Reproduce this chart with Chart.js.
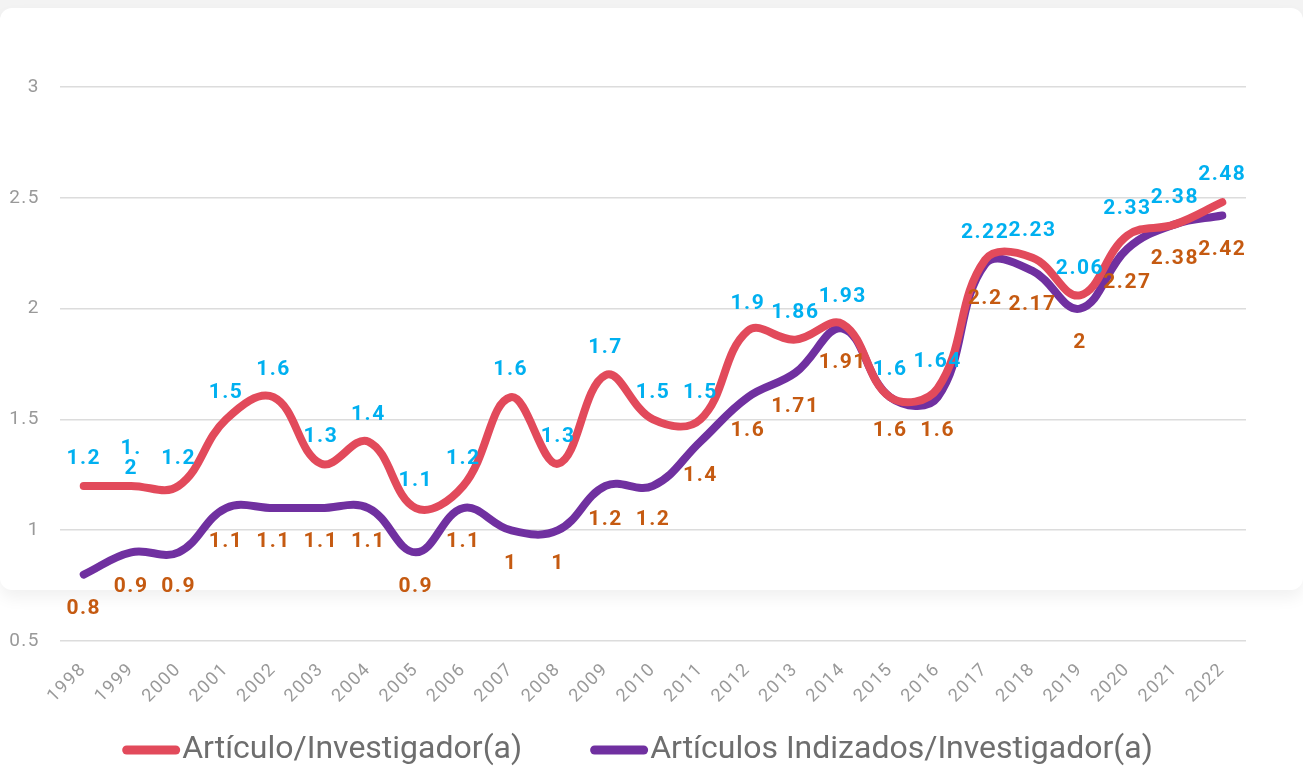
<!DOCTYPE html>
<html>
<head>
<meta charset="utf-8">
<script src="https://cdn.jsdelivr.net/npm/chart.js@4"></script>
<style>
    body { margin: 0; background: #fff; }
    .page { position: relative; width: 1303px; height: 766px; overflow: hidden; background: #fff; }
    .strip { position: absolute; left: 0; top: 0; width: 100%; height: 30px; background: #f3f3f3; }
    .card { position: absolute; left: 0; top: 8px; width: 1303px; height: 582px; background: #fff; border-radius: 12px; box-shadow: 0 8px 16px rgba(0, 0, 0, 0.06); }
    #chart { position: absolute; left: 0; top: 0; }
</style>
</head>
<body>
<div class="page">
    <div class="strip"></div>
    <div class="card"></div>
    <canvas id="chart" width="1303" height="766"></canvas>
</div>
<script>
// Datos
const years = ['1998', '1999', '2000', '2001', '2002', '2003', '2004', '2005', '2006', '2007', '2008', '2009', '2010',
    '2011', '2012', '2013', '2014', '2015', '2016', '2017', '2018', '2019', '2020', '2021', '2022'];
const articuloInvestigador = [1.2, 1.2, 1.2, 1.5, 1.6, 1.3, 1.4, 1.1, 1.2, 1.6, 1.3, 1.7, 1.5,
    1.5, 1.9, 1.86, 1.93, 1.6, 1.64, 2.22, 2.23, 2.06, 2.33, 2.38, 2.48];
const indizadosInvestigador = [0.8, 0.9, 0.9, 1.1, 1.1, 1.1, 1.1, 0.9, 1.1, 1, 1, 1.2, 1.2,
    1.4, 1.6, 1.71, 1.91, 1.6, 1.6, 2.2, 2.17, 2, 2.27, 2.38, 2.42];
const yTicks = [0.5, 1, 1.5, 2, 2.5, 3];

Chart.defaults.font.family = 'Roboto';

// Etiquetas de valores (azul arriba, naranja abajo)
const labelStyles = [
    { color: '#00b0f0', dy: -27 },
    { color: '#c55a11', dy: 34 }
];

const valueLabels = {
    id: 'valueLabels',
    afterDatasetsDraw(chart) {
        const ctx = chart.ctx;
        ctx.save();
        ctx.font = 'bold 21px Roboto';
        ctx.letterSpacing = '1.5px';
        ctx.textAlign = 'center';
        ctx.textBaseline = 'middle';
        chart.data.datasets.forEach((ds, i) => {
            const meta = chart.getDatasetMeta(i);
            const style = labelStyles[i];
            ctx.fillStyle = style.color;
            meta.data.forEach((pt, j) => {
                const text = String(ds.data[j]);
                // la etiqueta de 1999 aparece partida en dos líneas
                const lines = (i === 0 && j === 1) ? ['1.', '2'] : [text];
                const y0 = pt.y + style.dy - (lines.length - 1) * 10;
                lines.forEach((line, k) => ctx.fillText(line, pt.x, y0 + k * 20));
            });
        });
        ctx.restore();
    }
};

// Leyenda propia: línea gruesa pegada al texto
const bottomLegend = {
    id: 'bottomLegend',
    afterDraw(chart) {
        const ctx = chart.ctx;
        ctx.save();
        ctx.letterSpacing = '0px';
        ctx.font = '32px Roboto';
        ctx.textBaseline = 'middle';
        const y = 750;
        const items = chart.data.datasets.map(ds => ({
            text: ds.label,
            color: ds.borderColor,
            w: 60 + ctx.measureText(ds.label).width
        }));
        const gap = 68;
        const total = items.reduce((s, it) => s + it.w, 0) + gap * (items.length - 1);
        let x = chart.width / 2 - 14 - total / 2;
        items.forEach(it => {
            ctx.fillStyle = it.color;
            ctx.beginPath();
            ctx.roundRect(x, y - 4.5, 58, 9, 4.5);
            ctx.fill();
            ctx.fillStyle = '#6e6e6e';
            ctx.fillText(it.text, x + 60, y);
            x += it.w + gap;
        });
        ctx.restore();
    }
};

const spacing = {
    id: 'spacing',
    beforeDraw(chart) {
        chart.ctx.letterSpacing = '1.5px';
    }
};

const ctx = document.getElementById('chart').getContext('2d');
new Chart(ctx, {
    type: 'line',
    data: {
        labels: years,
        datasets: [
            {
                label: 'Artículo/Investigador(a)',
                data: articuloInvestigador,
                borderColor: '#e24a5b',
                backgroundColor: '#e24a5b',
                borderWidth: 8,
                borderCapStyle: 'round',
                borderJoinStyle: 'round',
                pointRadius: 0,
                tension: 0.4
            },
            {
                label: 'Artículos Indizados/Investigador(a)',
                data: indizadosInvestigador,
                borderColor: '#7030a0',
                backgroundColor: '#7030a0',
                borderWidth: 8,
                borderCapStyle: 'round',
                borderJoinStyle: 'round',
                pointRadius: 0,
                tension: 0.4
            }
        ]
    },
    options: {
        responsive: false,
        animation: false,
        layout: {
            padding: { top: 87, right: 57, left: 0, bottom: 40 }
        },
        scales: {
            x: {
                offset: true,
                grid: { display: false },
                border: { display: false },
                ticks: {
                    color: '#999999',
                    font: { size: 18 },
                    minRotation: 45,
                    maxRotation: 45,
                    padding: 10,
                    autoSkip: false
                },
                afterFit(scale) { scale.height = 85; }
            },
            y: {
                min: 0.5,
                max: 3,
                grid: { color: '#dcdcdc', lineWidth: 1.5, drawTicks: false },
                border: { display: false },
                afterBuildTicks(scale) {
                    scale.ticks = yTicks.map(v => ({ value: v }));
                },
                ticks: {
                    color: '#999999',
                    font: { size: 19 },
                    padding: 20,
                    callback: v => String(v)
                },
                afterFit(scale) { scale.width = 60; }
            }
        },
        plugins: {
            legend: { display: false },
            tooltip: { enabled: false }
        }
    },
    plugins: [spacing, valueLabels, bottomLegend]
});
</script>
</body>
</html>
